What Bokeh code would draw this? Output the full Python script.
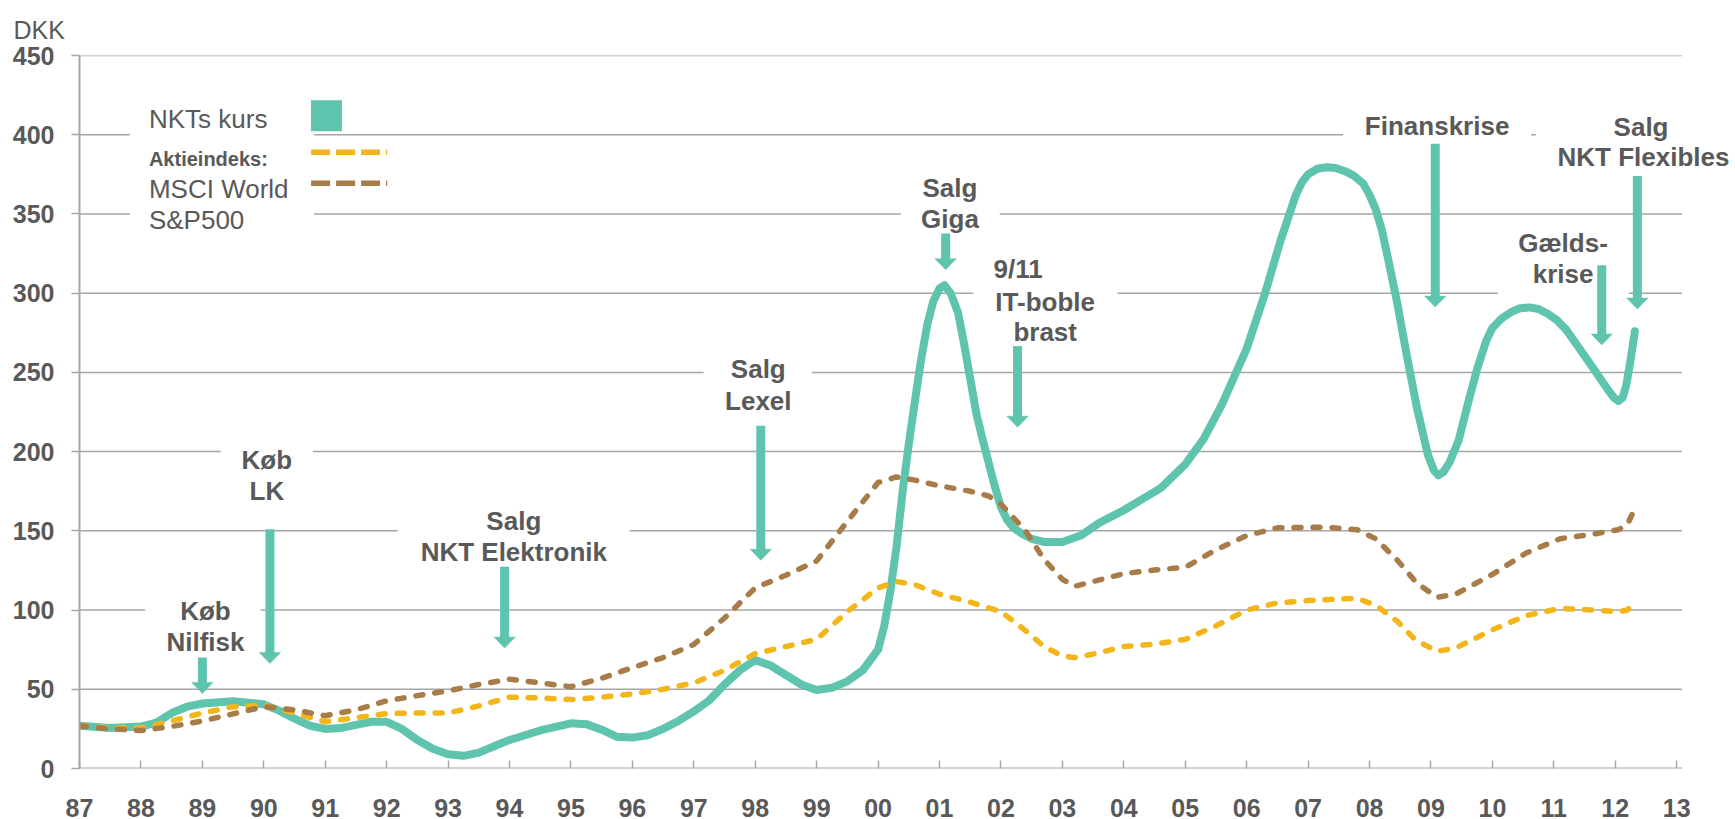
from bokeh.plotting import figure
from bokeh.models import FixedTicker, Label, Range1d
from bokeh.embed import file_html
from bokeh.resources import INLINE

# ---------------- data ----------------
nkt_year = [1987.0, 1987.5, 1988.0, 1988.25, 1988.5, 1988.75, 1989.0, 1989.5, 1990.0, 1990.25,
            1990.5, 1990.75, 1991.0, 1991.25, 1991.5, 1991.75, 1992.0, 1992.25, 1992.5, 1992.75,
            1993.0, 1993.25, 1993.5, 1993.75, 1994.0, 1994.5, 1995.0, 1995.25, 1995.5, 1995.75,
            1996.0, 1996.25, 1996.5, 1996.75, 1997.0, 1997.25, 1997.5, 1997.75, 1998.0, 1998.25,
            1998.5, 1998.75, 1999.0, 1999.25, 1999.5, 1999.75, 2000.0, 2000.1, 2000.2, 2000.3,
            2000.4, 2000.5, 2000.6, 2000.7, 2000.8, 2000.9, 2001.0, 2001.08, 2001.18, 2001.3,
            2001.4, 2001.5, 2001.6, 2001.7, 2001.8, 2001.9, 2002.0, 2002.1, 2002.2, 2002.35,
            2002.5, 2002.7, 2003.0, 2003.3, 2003.6, 2004.0, 2004.3, 2004.6, 2005.0, 2005.3,
            2005.6, 2006.0, 2006.3, 2006.55, 2006.8, 2006.9, 2007.0, 2007.15, 2007.3, 2007.45,
            2007.6, 2007.75, 2007.9, 2008.0, 2008.1, 2008.2, 2008.3, 2008.45, 2008.6, 2008.77,
            2008.95, 2009.05, 2009.12, 2009.2, 2009.3, 2009.45, 2009.6, 2009.75, 2009.9, 2010.0,
            2010.15, 2010.3, 2010.45, 2010.6, 2010.75, 2010.9, 2011.05, 2011.2, 2011.4, 2011.67,
            2011.9, 2011.98, 2012.05, 2012.12, 2012.18, 2012.25, 2012.32]
nkt_value = [27, 25.5, 26.5, 29, 35, 39, 41, 42.5, 40.5, 36.5,
             31.5, 27, 25, 25.5, 27.5, 29.5, 29.5, 25, 18, 12.5,
             9, 8, 10, 14, 18, 24, 28.5, 28, 24.5, 20,
             19.5, 21, 25, 30, 36, 43, 53, 62, 68.5, 65,
             59, 53, 49.5, 51, 55, 62, 75, 90, 112, 140,
             175, 205, 232, 258, 280, 295, 303, 305, 300, 288,
             268, 246, 224, 208, 193, 178, 165, 157, 152, 148,
             145, 143, 143, 147, 155, 163, 170, 177, 192, 208,
             230, 265, 300, 333, 362, 370, 375, 378.5, 379.5, 379,
             377, 374, 369, 362, 353, 340, 322, 294, 262, 228,
             198, 188, 185, 187, 193, 207, 230, 252, 270, 278,
             284, 288, 290.5, 291, 290, 287, 283, 277, 266, 251,
             238, 234, 232, 234, 242, 258, 276]

msci_year = [1987.0, 1987.5, 1988.0, 1988.5, 1989.0, 1989.5, 1990.0, 1990.5, 1991.0, 1991.5,
             1992.0, 1992.5, 1993.0, 1993.5, 1994.0, 1994.5, 1995.0, 1995.5, 1996.0, 1996.5,
             1997.0, 1997.5, 1998.0, 1998.5, 1999.0, 1999.5, 2000.0, 2000.3, 2000.6, 2001.0,
             2001.5, 2002.0, 2002.4, 2002.7, 2003.0, 2003.2, 2003.6, 2004.0, 2004.5, 2005.0,
             2005.5, 2006.0, 2006.5, 2007.0, 2007.5, 2007.8, 2008.1, 2008.45, 2008.75, 2009.1,
             2009.4, 2010.0, 2010.55, 2011.1, 2011.65, 2012.05, 2012.2, 2012.28]
msci_value = [27, 25.5, 25.5, 30, 35, 39, 40, 35, 29.5, 32,
              34.7, 35, 35, 39.5, 45, 44.5, 43.5, 45, 47, 50,
              54, 62, 72.5, 77, 81.5, 99, 114, 118, 116, 110,
              105, 99, 87, 77, 71, 70, 73, 77, 78.5, 81.5,
              90, 100, 104.5, 106, 107, 107.4, 103, 93, 81, 74,
              76, 87.5, 96.5, 101, 100, 99, 100, 104.5]

sp_year = [1987.0, 1987.5, 1988.0, 1988.5, 1989.0, 1989.5, 1990.0, 1990.5, 1991.0, 1991.5,
           1992.0, 1992.5, 1993.0, 1993.5, 1994.0, 1994.5, 1995.0, 1995.5, 1996.0, 1996.5,
           1997.0, 1997.5, 1998.0, 1998.5, 1999.0, 1999.5, 2000.0, 2000.3, 2000.6, 2001.0,
           2001.5, 2001.8, 2002.0, 2002.4, 2002.7, 2003.0, 2003.2, 2003.6, 2004.0, 2004.5,
           2005.0, 2005.5, 2006.0, 2006.5, 2007.3, 2007.8, 2008.1, 2008.45, 2008.77, 2009.1,
           2009.4, 2010.0, 2010.55, 2011.1, 2011.65, 2012.05, 2012.2, 2012.28]
sp_value = [27, 25, 24, 26.5, 30, 34.5, 39, 37, 33.3, 37,
            42.7, 46, 49, 53, 56.4, 54, 51.6, 57, 63.6, 70,
            78.3, 95, 114, 122, 131, 156, 180.5, 184, 182, 178.4,
            175, 172, 166.8, 150, 132, 119.4, 115, 119, 123, 125.3,
            127, 138, 147, 151.9, 152.3, 150.7, 145, 131.6, 117, 108,
            110, 122.5, 136, 145, 148, 150.7, 154, 161]

x_ticks = list(range(1987, 2014))
x_tick_labels = ["87", "88", "89", "90", "91", "92", "93", "94", "95", "96", "97", "98", "99",
                 "00", "01", "02", "03", "04", "05", "06", "07", "08", "09", "10", "11", "12", "13"]
y_ticks = [0, 50, 100, 150, 200, 250, 300, 350, 400, 450]
y_tick_labels = ["0", "50", "100", "150", "200", "250", "300", "350", "400", "450"]

legend_labels = ["NKTs kurs", "Aktieindeks:", "MSCI World", "S&P500"]
unit_label = "DKK"

# annotations: text lines (text, x, y), arrow (x, top, tip), white box (left, right, bottom, top)
events = [
    dict(lines=[("Køb", 1989.05, 99.6), ("Nilfisk", 1989.05, 79.6)],
         arrow=(1989.0, 70, 47.4), box=(1988.07, 1989.95, 72, 110)),
    dict(lines=[("Køb", 1990.05, 194.7), ("LK", 1990.05, 175)],
         arrow=(1990.1, 151, 66.3), box=(1989.30, 1990.80, 163, 207)),
    dict(lines=[("Salg", 1994.07, 156), ("NKT Elektronik", 1994.07, 136.4)],
         arrow=(1993.92, 127.4, 76), box=(1992.18, 1995.96, 126, 168)),
    dict(lines=[("Salg", 1998.05, 252), ("Lexel", 1998.05, 232)],
         arrow=(1998.09, 216.3, 131.4), box=(1997.16, 1998.92, 222, 264)),
    dict(lines=[("Salg", 2001.17, 366.6), ("Giga", 2001.17, 347)],
         arrow=(2001.10, 337.6, 314.8), box=(2000.37, 2001.98, 338, 378)),
    dict(lines=[("9/11", 2002.28, 315), ("IT-boble", 2002.72, 294.5), ("brast", 2002.72, 275.4)],
         arrow=(2002.27, 266.6, 215.4), box=(2001.55, 2003.9, 266, 326)),
    dict(lines=[("Finanskrise", 2009.1, 405.3)],
         arrow=(2009.07, 394.3, 291.2), box=(2007.57, 2010.63, 395, 418)),
    dict(lines=[("Gælds-", 2011.15, 331.8), ("krise", 2011.15, 312)],
         arrow=(2011.78, 317.6, 267.3), box=(2010.09, 2012.22, 296, 342)),
    dict(lines=[("Salg", 2012.42, 405), ("NKT Flexibles", 2012.46, 386)],
         arrow=(2012.36, 374, 290), box=(2010.71, 2013.2, 378, 418)),
]

# ---------------- styling ----------------
TEAL = "#5FC4AE"
YELLOW = "#F2B61A"
BROWN = "#A87C48"
GRID = "#A6A6A6"
TXT = "#595959"
FONT = "Liberation Sans"

W, H = 1735, 829
BL, BR, BT, BB = 79, 0, 55, 61
frame_w = W - BL - BR
frame_h = H - BT - BB
ppy = 61.43
x0 = 1987.0
x1 = x0 + frame_w / ppy
grid_end = 2013.086
ppu = frame_h / 450.0

p = figure(width=W, height=H, output_backend="svg", toolbar_location=None,
           x_range=Range1d(x0, x1), y_range=Range1d(0, 450),
           min_border_left=BL, min_border_right=BR, min_border_top=BT, min_border_bottom=BB)
p.outline_line_color = None
p.background_fill_color = "white"
p.border_fill_color = "white"
p.grid.visible = False

# unit label as title at the top-left
p.title.text = unit_label
p.title.align = "left"
p.title.offset = -66
p.title.standoff = 24
p.title.text_font = FONT
p.title.text_font_style = "normal"
p.title.text_font_size = "25px"
p.title.text_color = TXT

p.xaxis.ticker = FixedTicker(ticks=x_ticks)
p.xaxis.major_label_overrides = {t: l for t, l in zip(x_ticks, x_tick_labels)}
p.xaxis.major_tick_in = 8
p.xaxis.major_tick_out = 0
p.xaxis.minor_tick_line_color = None
p.xaxis.major_label_standoff = 30
p.xaxis.axis_line_color = None

p.yaxis.ticker = FixedTicker(ticks=y_ticks)
p.yaxis.major_label_overrides = {t: l for t, l in zip(y_ticks, y_tick_labels)}
p.yaxis.major_tick_in = 0
p.yaxis.major_tick_out = 8
p.yaxis.minor_tick_line_color = None
p.yaxis.major_label_standoff = 17
p.yaxis.axis_line_color = GRID
p.yaxis.axis_line_width = 2

for ax in (p.xaxis, p.yaxis):
    ax.major_tick_line_color = GRID
    ax.major_tick_line_width = 1.5
    ax.major_label_text_font = FONT
    ax.major_label_text_font_style = "bold"
    ax.major_label_text_font_size = "25px"
    ax.major_label_text_color = TXT

# horizontal grid lines (stop at the last year tick)
p.segment(x0=[x0] * len(y_ticks), y0=y_ticks, x1=[grid_end] * len(y_ticks), y1=y_ticks,
          line_color=GRID, line_width=[2] + [1.5] * (len(y_ticks) - 1))

# white boxes hiding grid lines behind labels / legend
bl = [e["box"][0] for e in events] + [1987.82]
br = [e["box"][1] for e in events] + [1990.82]
bb = [e["box"][2] for e in events] + [336]
bt = [e["box"][3] for e in events] + [425]
p.quad(left=bl, right=br, bottom=bb, top=bt, fill_color="white", line_color=None)

# series
p.line(nkt_year, nkt_value, line_color=TEAL, line_width=8, line_join="round", line_cap="round")
p.line(msci_year, msci_value, line_color=YELLOW, line_width=5.5, line_dash="7 12",
       line_cap="round", line_join="round")
p.line(sp_year, sp_value, line_color=BROWN, line_width=5.5, line_dash="7 12",
       line_cap="round", line_join="round")

# arrows
hl = 11.0 / ppu
hw = 10.7 / ppy
ax_ = [e["arrow"][0] for e in events]
atop = [e["arrow"][1] for e in events]
atip = [e["arrow"][2] for e in events]
p.segment(x0=ax_, y0=atop, x1=ax_, y1=[t + hl * 0.9 for t in atip],
          line_color=TEAL, line_width=9, line_cap="butt")
p.patches(xs=[[x - hw, x + hw, x] for x in ax_],
          ys=[[t + hl, t + hl, t] for t in atip],
          fill_color=TEAL, line_color=TEAL, line_width=0.5)

for e in events:
    for text, x, y in e["lines"]:
        p.add_layout(Label(x=x, y=y, text=text, text_align="center", text_baseline="middle",
                           text_font=FONT, text_font_style="bold", text_font_size="26px",
                           text_color=TXT))

# legend
p.scatter([1991.02], [412], marker="square", size=31, fill_color=TEAL, line_color=None)
p.segment(x0=[1990.77, 1990.77], y0=[389, 369.4], x1=[1992.01, 1992.01], y1=[389, 369.4],
          line_color=[YELLOW, BROWN], line_width=5.5, line_dash="19 6", line_cap="butt")
leg_y = [409.8, 384.5, 366, 346]
leg_style = ["normal", "bold", "normal", "normal"]
leg_size = ["26px", "20px", "26px", "26px"]
for t, y, st, sz in zip(legend_labels, leg_y, leg_style, leg_size):
    p.add_layout(Label(x=1988.13, y=y, text=t, text_align="left", text_baseline="middle",
                       text_font=FONT, text_font_style=st, text_font_size=sz, text_color=TXT))

open("out.html", "w").write(file_html(p, INLINE))
